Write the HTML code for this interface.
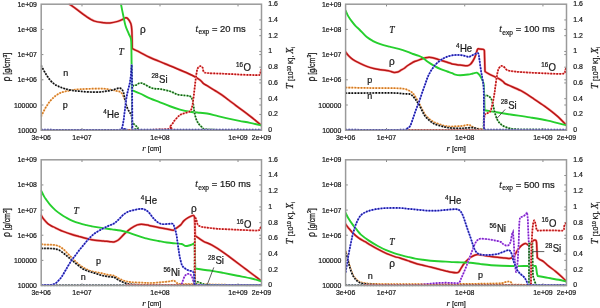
<!DOCTYPE html>
<html><head><meta charset="utf-8"><style>
html,body{margin:0;padding:0;background:#fff;}
svg{display:block;will-change:transform;}
text{font-family:"Liberation Sans",sans-serif;fill:#1a1a1a;stroke:#1a1a1a;stroke-width:0.22px;}
.tk{font-size:6.9px;}
.serif{font-family:"Liberation Serif",serif;}
</style></head><body>
<svg width="600" height="308" viewBox="0 0 600 308">

<path d="M41.2 105h2.2M261.5 105h-2.2M41.2 79.8h2.2M261.5 79.8h-2.2M41.2 54.6h2.2M261.5 54.6h-2.2M41.2 29.4h2.2M261.5 29.4h-2.2M81.99 130.2v-2.2M81.99 4.2v2.2M160 130.2v-2.2M160 4.2v2.2M238.02 130.2v-2.2M238.02 4.2v2.2M261.5 114.45h-2.2M261.5 98.7h-2.2M261.5 82.95h-2.2M261.5 67.2h-2.2M261.5 51.45h-2.2M261.5 35.7h-2.2M261.5 19.95h-2.2" stroke="#888" stroke-width="1" fill="none"/>
<clipPath id="c0"><rect x="40.7" y="3.7" width="221.3" height="127.2"/></clipPath><g clip-path="url(#c0)">
<path d="M69.5 4.2C70.65 5.02 73.73 7.15 76.4 9.1C79.07 11.05 82.48 13.9 85.5 15.9C88.52 17.9 91.48 19.97 94.5 21.1C97.52 22.23 101.02 22.38 103.6 22.7C106.18 23.02 107.63 23.22 110 23C112.37 22.78 115.63 22.03 117.8 21.4C119.97 20.77 121.75 19.78 123 19.2C124.25 18.62 124.55 18.03 125.3 17.9C126.05 17.77 126.58 17.48 127.5 18.4C128.42 19.32 130.08 21.48 130.8 23.4C131.52 25.32 131.58 27.3 131.8 29.9C132.02 32.5 132.02 35.95 132.1 39C132.18 42.05 132.27 46.67 132.3 48.2C132.48 48.37 132.12 48.52 133.4 49.2C134.68 49.88 137.23 50.92 140 52.3C142.77 53.68 145.83 55.59 150 57.5C154.17 59.41 160 61.67 165 63.75C170 65.83 175.42 68.04 180 70C184.58 71.96 189.17 73.83 192.5 75.5C195.83 77.17 198.15 78.65 200 80C201.85 81.35 202.42 82.65 203.6 83.6C204.78 84.55 205.32 84.6 207.1 85.7C208.88 86.8 211.92 88.72 214.3 90.2C216.68 91.68 219.02 92.97 221.4 94.6C223.78 96.23 226.22 98.2 228.6 100C230.98 101.8 233.32 103.62 235.7 105.4C238.08 107.18 240.52 108.92 242.9 110.7C245.28 112.48 247.63 114.25 250 116.1C252.37 117.95 255.22 120.27 257.1 121.8C258.98 123.33 260.6 124.72 261.3 125.3" stroke="#ff4a4a" stroke-opacity="0.5" stroke-width="2.5" fill="none" stroke-linejoin="round" stroke-linecap="round"/>
<path d="M69.5 4.2C70.65 5.02 73.73 7.15 76.4 9.1C79.07 11.05 82.48 13.9 85.5 15.9C88.52 17.9 91.48 19.97 94.5 21.1C97.52 22.23 101.02 22.38 103.6 22.7C106.18 23.02 107.63 23.22 110 23C112.37 22.78 115.63 22.03 117.8 21.4C119.97 20.77 121.75 19.78 123 19.2C124.25 18.62 124.55 18.03 125.3 17.9C126.05 17.77 126.58 17.48 127.5 18.4C128.42 19.32 130.08 21.48 130.8 23.4C131.52 25.32 131.58 27.3 131.8 29.9C132.02 32.5 132.02 35.95 132.1 39C132.18 42.05 132.27 46.67 132.3 48.2C132.48 48.37 132.12 48.52 133.4 49.2C134.68 49.88 137.23 50.92 140 52.3C142.77 53.68 145.83 55.59 150 57.5C154.17 59.41 160 61.67 165 63.75C170 65.83 175.42 68.04 180 70C184.58 71.96 189.17 73.83 192.5 75.5C195.83 77.17 198.15 78.65 200 80C201.85 81.35 202.42 82.65 203.6 83.6C204.78 84.55 205.32 84.6 207.1 85.7C208.88 86.8 211.92 88.72 214.3 90.2C216.68 91.68 219.02 92.97 221.4 94.6C223.78 96.23 226.22 98.2 228.6 100C230.98 101.8 233.32 103.62 235.7 105.4C238.08 107.18 240.52 108.92 242.9 110.7C245.28 112.48 247.63 114.25 250 116.1C252.37 117.95 255.22 120.27 257.1 121.8C258.98 123.33 260.6 124.72 261.3 125.3" stroke="#b81616" stroke-width="1.5" fill="none" stroke-linejoin="round" stroke-linecap="round"/>
<path d="M121 4.2C121.33 5.88 122.23 10.67 123 14.3C123.77 17.93 124.63 22.75 125.6 26C126.57 29.25 127.9 31.62 128.8 33.8C129.7 35.98 130.57 36.48 131 39.1C131.43 41.72 131.3 45.38 131.4 49.5C131.5 53.62 131.53 57.05 131.6 63.8C131.67 70.55 131.77 85.63 131.8 90C133.17 90.58 136.97 92.1 140 93.5C143.03 94.9 146.67 96.93 150 98.4C153.33 99.87 156.67 100.99 160 102.3C163.33 103.61 166.67 105.03 170 106.25C173.33 107.47 176.67 108.67 180 109.6C183.33 110.52 186.67 111.27 190 111.8C193.33 112.33 197.15 112.52 200 112.8C202.85 113.08 204.12 112.95 207.1 113.5C210.08 114.05 214.32 115.25 217.9 116.1C221.48 116.95 225.03 117.8 228.6 118.6C232.17 119.4 235.73 120.18 239.3 120.9C242.87 121.62 246.33 122.13 250 122.9C253.67 123.67 259.42 125.07 261.3 125.5" stroke="#26cf2e" stroke-width="1.9" fill="none" stroke-linejoin="round" stroke-linecap="round"/>
<path d="M41.2 116.5C41.83 115.21 43.53 111.29 45 108.75C46.47 106.21 48.33 103.33 50 101.25C51.67 99.17 53.33 97.62 55 96.25C56.67 94.88 58.33 93.79 60 93C61.67 92.21 62.92 92 65 91.5C67.08 91 70 90.38 72.5 90C75 89.62 77.08 89.46 80 89.25C82.92 89.04 86.67 88.86 90 88.75C93.33 88.64 97.5 88.6 100 88.6C102.5 88.6 103.33 88.58 105 88.75C106.67 88.92 108.05 89.22 110 89.6C111.95 89.97 115.02 90.63 116.7 91C118.38 91.37 119.12 91.25 120.1 91.8C121.08 92.35 121.87 93.1 122.6 94.3C123.33 95.5 124.18 98.22 124.5 99" stroke="#ffd0a0" stroke-width="1.5" fill="none" stroke-linejoin="round"/>
<path d="M41.2 116.5C41.83 115.21 43.53 111.29 45 108.75C46.47 106.21 48.33 103.33 50 101.25C51.67 99.17 53.33 97.62 55 96.25C56.67 94.88 58.33 93.79 60 93C61.67 92.21 62.92 92 65 91.5C67.08 91 70 90.38 72.5 90C75 89.62 77.08 89.46 80 89.25C82.92 89.04 86.67 88.86 90 88.75C93.33 88.64 97.5 88.6 100 88.6C102.5 88.6 103.33 88.58 105 88.75C106.67 88.92 108.05 89.22 110 89.6C111.95 89.97 115.02 90.63 116.7 91C118.38 91.37 119.12 91.25 120.1 91.8C121.08 92.35 121.87 93.1 122.6 94.3C123.33 95.5 124.18 98.22 124.5 99" stroke="#d07a24" stroke-width="1.7" fill="none" stroke-dasharray="1.6 1.4"/>
<path d="M41.2 65.5C41.83 66.67 43.53 70.08 45 72.5C46.47 74.92 48.33 78 50 80C51.67 82 53.33 83.33 55 84.5C56.67 85.67 58.33 86.29 60 87C61.67 87.71 62.92 88.17 65 88.75C67.08 89.33 70 90.08 72.5 90.5C75 90.92 77.08 91 80 91.25C82.92 91.5 86.67 91.88 90 92C93.33 92.12 97.5 92.12 100 92C102.5 91.88 103.33 91.53 105 91.3C106.67 91.07 108.33 90.93 110 90.6C111.67 90.27 113.45 89.72 115 89.3C116.55 88.88 118.17 88.1 119.3 88.1C120.43 88.1 121.1 88.55 121.8 89.3C122.5 90.05 122.93 90.78 123.5 92.6C124.07 94.42 124.63 97.8 125.2 100.2C125.77 102.6 126.2 105.03 126.9 107C127.6 108.97 128.7 110.73 129.4 112C130.1 113.27 130.68 113.47 131.1 114.6C131.52 115.73 131.72 116.27 131.9 118.8C132.08 121.33 132.15 127.97 132.2 129.8" stroke="#bdbdbd" stroke-width="1.5" fill="none" stroke-linejoin="round"/>
<path d="M41.2 65.5C41.83 66.67 43.53 70.08 45 72.5C46.47 74.92 48.33 78 50 80C51.67 82 53.33 83.33 55 84.5C56.67 85.67 58.33 86.29 60 87C61.67 87.71 62.92 88.17 65 88.75C67.08 89.33 70 90.08 72.5 90.5C75 90.92 77.08 91 80 91.25C82.92 91.5 86.67 91.88 90 92C93.33 92.12 97.5 92.12 100 92C102.5 91.88 103.33 91.53 105 91.3C106.67 91.07 108.33 90.93 110 90.6C111.67 90.27 113.45 89.72 115 89.3C116.55 88.88 118.17 88.1 119.3 88.1C120.43 88.1 121.1 88.55 121.8 89.3C122.5 90.05 122.93 90.78 123.5 92.6C124.07 94.42 124.63 97.8 125.2 100.2C125.77 102.6 126.2 105.03 126.9 107C127.6 108.97 128.7 110.73 129.4 112C130.1 113.27 130.68 113.47 131.1 114.6C131.52 115.73 131.72 116.27 131.9 118.8C132.08 121.33 132.15 127.97 132.2 129.8" stroke="#0a0a0a" stroke-width="1.7" fill="none" stroke-dasharray="1.6 1.4"/>
<path d="M41.2 129.8C56.17 129.8 115.87 131.43 131 129.8C146.13 128.17 131.8 126.78 132 120C132.2 113.22 131.48 94.93 132.2 89.1C132.92 83.27 134.95 86.02 136.3 85C137.65 83.98 138.95 83.12 140.3 83C141.65 82.88 142.37 83.42 144.4 84.3C146.43 85.18 149.9 87.5 152.5 88.3C155.1 89.1 157.08 88.61 160 89.1C162.92 89.59 167.08 90.35 170 91.25C172.92 92.15 175 93.79 177.5 94.5C180 95.21 182.92 95.21 185 95.5C187.08 95.79 188.75 95.5 190 96.25C191.25 97 191.88 98.12 192.5 100C193.12 101.88 193.33 105 193.75 107.5C194.17 110 194.38 112.58 195 115C195.62 117.42 196.25 119.92 197.5 122C198.75 124.08 200.42 126.23 202.5 127.5C204.58 128.77 200.17 129.22 210 129.6C219.83 129.98 252.92 129.77 261.5 129.8" stroke="#a0e4a0" stroke-width="1.5" fill="none" stroke-linejoin="round"/>
<path d="M41.2 129.8C56.17 129.8 115.87 131.43 131 129.8C146.13 128.17 131.8 126.78 132 120C132.2 113.22 131.48 94.93 132.2 89.1C132.92 83.27 134.95 86.02 136.3 85C137.65 83.98 138.95 83.12 140.3 83C141.65 82.88 142.37 83.42 144.4 84.3C146.43 85.18 149.9 87.5 152.5 88.3C155.1 89.1 157.08 88.61 160 89.1C162.92 89.59 167.08 90.35 170 91.25C172.92 92.15 175 93.79 177.5 94.5C180 95.21 182.92 95.21 185 95.5C187.08 95.79 188.75 95.5 190 96.25C191.25 97 191.88 98.12 192.5 100C193.12 101.88 193.33 105 193.75 107.5C194.17 110 194.38 112.58 195 115C195.62 117.42 196.25 119.92 197.5 122C198.75 124.08 200.42 126.23 202.5 127.5C204.58 128.77 200.17 129.22 210 129.6C219.83 129.98 252.92 129.77 261.5 129.8" stroke="#145a14" stroke-width="1.7" fill="none" stroke-dasharray="1.6 1.4"/>
<path d="M41.2 129.8C61 129.77 138.53 130.19 160 129.6C181.47 129.01 167.5 127.85 170 126.25C172.5 124.65 173.33 121.88 175 120C176.67 118.12 178.33 116.17 180 115C181.67 113.83 183.33 113.62 185 113C186.67 112.38 188.75 112.58 190 111.25C191.25 109.92 191.67 109.38 192.5 105C193.33 100.62 194.38 90 195 85C195.62 80 195.83 77.71 196.25 75C196.67 72.29 196.88 70.21 197.5 68.75C198.12 67.29 199.17 66.46 200 66.25C200.83 66.04 201.88 66.58 202.5 67.5C203.12 68.42 202.92 70.87 203.75 71.8C204.58 72.73 204.79 72.8 207.5 73.1C210.21 73.4 215.42 73.4 220 73.6C224.58 73.8 230 74.08 235 74.3C240 74.52 245.92 74.8 250 74.9C254.08 75 257.75 75.51 259.5 74.9C261.25 74.29 260.17 72.15 260.5 71.25C260.83 70.35 261.33 69.79 261.5 69.5" stroke="#ff9a9a" stroke-width="1.5" fill="none" stroke-linejoin="round"/>
<path d="M41.2 129.8C61 129.77 138.53 130.19 160 129.6C181.47 129.01 167.5 127.85 170 126.25C172.5 124.65 173.33 121.88 175 120C176.67 118.12 178.33 116.17 180 115C181.67 113.83 183.33 113.62 185 113C186.67 112.38 188.75 112.58 190 111.25C191.25 109.92 191.67 109.38 192.5 105C193.33 100.62 194.38 90 195 85C195.62 80 195.83 77.71 196.25 75C196.67 72.29 196.88 70.21 197.5 68.75C198.12 67.29 199.17 66.46 200 66.25C200.83 66.04 201.88 66.58 202.5 67.5C203.12 68.42 202.92 70.87 203.75 71.8C204.58 72.73 204.79 72.8 207.5 73.1C210.21 73.4 215.42 73.4 220 73.6C224.58 73.8 230 74.08 235 74.3C240 74.52 245.92 74.8 250 74.9C254.08 75 257.75 75.51 259.5 74.9C261.25 74.29 260.17 72.15 260.5 71.25C260.83 70.35 261.33 69.79 261.5 69.5" stroke="#b41212" stroke-width="1.7" fill="none" stroke-dasharray="1.6 1.4"/>
<path d="M41.2 129.7C54.42 129.7 107.03 129.98 120.5 129.7C133.97 129.42 121.5 129.45 122 128C122.5 126.55 123.07 123.67 123.5 121C123.93 118.33 124.25 114.83 124.6 112C124.95 109.17 125.25 106.58 125.6 104C125.95 101.42 126.27 98.92 126.7 96.5C127.13 94.08 127.68 91.75 128.2 89.5C128.72 87.25 129.37 85.25 129.8 83C130.23 80.75 130.53 78.5 130.8 76C131.07 73.5 131.25 69.87 131.4 68C131.55 66.13 131.65 65.33 131.7 64.8C131.77 68.17 131.98 74.18 132.1 85C132.22 95.82 132.35 122.25 132.4 129.7C153.92 129.7 239.98 129.7 261.5 129.7" stroke="#8c8cff" stroke-width="1.5" fill="none" stroke-linejoin="round"/>
<path d="M41.2 129.7C54.42 129.7 107.03 129.98 120.5 129.7C133.97 129.42 121.5 129.45 122 128C122.5 126.55 123.07 123.67 123.5 121C123.93 118.33 124.25 114.83 124.6 112C124.95 109.17 125.25 106.58 125.6 104C125.95 101.42 126.27 98.92 126.7 96.5C127.13 94.08 127.68 91.75 128.2 89.5C128.72 87.25 129.37 85.25 129.8 83C130.23 80.75 130.53 78.5 130.8 76C131.07 73.5 131.25 69.87 131.4 68C131.55 66.13 131.65 65.33 131.7 64.8C131.77 68.17 131.98 74.18 132.1 85C132.22 95.82 132.35 122.25 132.4 129.7C153.92 129.7 239.98 129.7 261.5 129.7" stroke="#1c1c98" stroke-width="1.7" fill="none" stroke-dasharray="1.6 1.4"/>
</g>
<rect x="41.2" y="4.2" width="220.3" height="126" fill="none" stroke="#9a9a9a" stroke-width="1.5"/>
<text class="tk" x="36.9" y="6.7" text-anchor="end">1e+09</text>
<text class="tk" x="36.9" y="31.9" text-anchor="end">1e+08</text>
<text class="tk" x="36.9" y="57.1" text-anchor="end">1e+07</text>
<text class="tk" x="36.9" y="82.3" text-anchor="end">1e+06</text>
<text class="tk" x="36.9" y="107.5" text-anchor="end">100000</text>
<text class="tk" x="36.9" y="132.7" text-anchor="end">10000</text>
<text class="tk" x="268.3" y="6.1">1.6</text>
<text class="tk" x="268.3" y="21.85">1.4</text>
<text class="tk" x="268.3" y="37.6">1.2</text>
<text class="tk" x="268.3" y="53.35">1</text>
<text class="tk" x="268.3" y="69.1">0.8</text>
<text class="tk" x="268.3" y="84.85">0.6</text>
<text class="tk" x="268.3" y="100.6">0.4</text>
<text class="tk" x="268.3" y="116.35">0.2</text>
<text class="tk" x="268.3" y="132.1">0</text>
<text class="tk" x="41.2" y="139.7" text-anchor="middle">3e+06</text>
<text class="tk" x="81.99" y="139.7" text-anchor="middle">1e+07</text>
<text class="tk" x="160" y="139.7" text-anchor="middle">1e+08</text>
<text class="tk" x="238.02" y="139.7" text-anchor="middle">1e+09</text>
<text class="tk" x="261.5" y="139.7" text-anchor="middle">2e+09</text>
<text x="142.2" y="150.7" font-size="7.2"><tspan class="serif" font-style="italic" font-size="9">r</tspan> [cm]</text>
<text transform="translate(10.2 67.2) rotate(-90) scale(1 1.25)" font-size="7" text-anchor="middle"><tspan font-size="8.6">ρ</tspan> [g/cm<tspan font-size="5" dy="-2.6">3</tspan><tspan dy="2.6">]</tspan></text>
<text transform="translate(293.1 89) rotate(-90)" font-size="6.9"><tspan class="serif" font-style="italic" font-size="10">T</tspan><tspan dx="0.6"> [10</tspan><tspan font-size="4.8" dy="-2.6">10</tspan><tspan dy="2.6"> K], </tspan><tspan class="serif" font-style="italic" font-size="9.6">X</tspan><tspan font-size="4.8" dy="1.8">i</tspan></text>
<path d="M345.6 105h2.2M566.5 105h-2.2M345.6 79.8h2.2M566.5 79.8h-2.2M345.6 54.6h2.2M566.5 54.6h-2.2M345.6 29.4h2.2M566.5 29.4h-2.2M386.5 130.2v-2.2M386.5 4.2v2.2M464.73 130.2v-2.2M464.73 4.2v2.2M542.95 130.2v-2.2M542.95 4.2v2.2M566.5 114.45h-2.2M566.5 98.7h-2.2M566.5 82.95h-2.2M566.5 67.2h-2.2M566.5 51.45h-2.2M566.5 35.7h-2.2M566.5 19.95h-2.2" stroke="#888" stroke-width="1" fill="none"/>
<clipPath id="c1"><rect x="345.1" y="3.7" width="221.9" height="127.2"/></clipPath><g clip-path="url(#c1)">
<path d="M345.6 51.9C346.1 52.55 347.35 54.5 348.6 55.8C349.85 57.1 351.2 58.43 353.1 59.7C355 60.97 357.72 62.28 360 63.4C362.28 64.52 364.53 65.57 366.8 66.4C369.07 67.23 371.57 67.88 373.6 68.4C375.63 68.92 376.85 69.15 379 69.5C381.15 69.85 384.5 70.17 386.5 70.5C388.5 70.83 389.75 71.18 391 71.5C392.25 71.82 392.88 72.32 394 72.4C395.12 72.48 396.58 72.37 397.75 72C398.92 71.63 399.96 70.78 401 70.2C402.04 69.62 402.87 69.28 404 68.5C405.13 67.72 406.55 66.38 407.8 65.5C409.05 64.62 410.37 63.87 411.5 63.2C412.63 62.53 413.52 61.97 414.6 61.5C415.68 61.03 416.62 60.9 418 60.4C419.38 59.9 421.28 59 422.9 58.5C424.52 58 426.08 57.53 427.7 57.4C429.32 57.27 430.7 57.32 432.6 57.7C434.5 58.08 436.93 59.02 439.1 59.7C441.27 60.38 443.43 61.1 445.6 61.8C447.77 62.5 450.2 63.42 452.1 63.9C454 64.38 455.38 64.48 457 64.7C458.62 64.92 460.1 65.02 461.8 65.2C463.5 65.38 465.77 65.97 467.2 65.8C468.63 65.63 469.45 65 470.4 64.2C471.35 63.4 472.08 62.35 472.9 61C473.72 59.65 474.55 58 475.3 56.1C476.05 54.2 476.87 50.82 477.4 49.6C477.93 48.38 478.32 48.93 478.5 48.8C479.32 48.9 482.42 49.07 483.4 49.4C484.38 49.73 484.23 50.57 484.4 50.8C484.5 54.25 484.9 68.05 485 71.5C485.42 71.77 486 72.28 487.5 73.1C489 73.92 492.12 75.48 494 76.4C495.88 77.32 497.3 77.75 498.8 78.6C500.3 79.45 501.97 80.68 503 81.5C504.03 82.32 504 82.85 505 83.5C506 84.15 506.35 84.2 509 85.4C511.65 86.6 516.93 88.57 520.9 90.7C524.87 92.83 528.82 95.6 532.8 98.2C536.78 100.8 540.82 103.4 544.8 106.3C548.78 109.2 553.12 112.47 556.7 115.6C560.28 118.73 564.7 123.52 566.3 125.1" stroke="#ff4a4a" stroke-opacity="0.5" stroke-width="2.5" fill="none" stroke-linejoin="round" stroke-linecap="round"/>
<path d="M345.6 51.9C346.1 52.55 347.35 54.5 348.6 55.8C349.85 57.1 351.2 58.43 353.1 59.7C355 60.97 357.72 62.28 360 63.4C362.28 64.52 364.53 65.57 366.8 66.4C369.07 67.23 371.57 67.88 373.6 68.4C375.63 68.92 376.85 69.15 379 69.5C381.15 69.85 384.5 70.17 386.5 70.5C388.5 70.83 389.75 71.18 391 71.5C392.25 71.82 392.88 72.32 394 72.4C395.12 72.48 396.58 72.37 397.75 72C398.92 71.63 399.96 70.78 401 70.2C402.04 69.62 402.87 69.28 404 68.5C405.13 67.72 406.55 66.38 407.8 65.5C409.05 64.62 410.37 63.87 411.5 63.2C412.63 62.53 413.52 61.97 414.6 61.5C415.68 61.03 416.62 60.9 418 60.4C419.38 59.9 421.28 59 422.9 58.5C424.52 58 426.08 57.53 427.7 57.4C429.32 57.27 430.7 57.32 432.6 57.7C434.5 58.08 436.93 59.02 439.1 59.7C441.27 60.38 443.43 61.1 445.6 61.8C447.77 62.5 450.2 63.42 452.1 63.9C454 64.38 455.38 64.48 457 64.7C458.62 64.92 460.1 65.02 461.8 65.2C463.5 65.38 465.77 65.97 467.2 65.8C468.63 65.63 469.45 65 470.4 64.2C471.35 63.4 472.08 62.35 472.9 61C473.72 59.65 474.55 58 475.3 56.1C476.05 54.2 476.87 50.82 477.4 49.6C477.93 48.38 478.32 48.93 478.5 48.8C479.32 48.9 482.42 49.07 483.4 49.4C484.38 49.73 484.23 50.57 484.4 50.8C484.5 54.25 484.9 68.05 485 71.5C485.42 71.77 486 72.28 487.5 73.1C489 73.92 492.12 75.48 494 76.4C495.88 77.32 497.3 77.75 498.8 78.6C500.3 79.45 501.97 80.68 503 81.5C504.03 82.32 504 82.85 505 83.5C506 84.15 506.35 84.2 509 85.4C511.65 86.6 516.93 88.57 520.9 90.7C524.87 92.83 528.82 95.6 532.8 98.2C536.78 100.8 540.82 103.4 544.8 106.3C548.78 109.2 553.12 112.47 556.7 115.6C560.28 118.73 564.7 123.52 566.3 125.1" stroke="#b81616" stroke-width="1.5" fill="none" stroke-linejoin="round" stroke-linecap="round"/>
<path d="M345.5 10.5C345.9 11.35 346.85 13.78 347.9 15.6C348.95 17.42 350.5 19.65 351.8 21.4C353.1 23.15 354.4 24.72 355.7 26.1C357 27.48 357.75 27.87 359.6 29.7C361.45 31.53 364.47 35.17 366.8 37.1C369.13 39.03 371.33 40.12 373.6 41.3C375.87 42.48 377.73 43.3 380.4 44.2C383.07 45.1 386.55 45.93 389.6 46.7C392.65 47.47 395.67 47.95 398.7 48.8C401.73 49.65 405.42 50.93 407.8 51.8C410.18 52.67 411.3 53.37 413 54C414.7 54.63 416.35 54.95 418 55.6C419.65 56.25 421.28 56.87 422.9 57.9C424.52 58.93 425.82 60.48 427.7 61.8C429.58 63.12 432.03 64.58 434.2 65.8C436.37 67.02 438.53 68.15 440.7 69.1C442.87 70.05 445.3 70.82 447.2 71.5C449.1 72.18 450.75 72.68 452.1 73.2C453.45 73.72 453.95 74.27 455.3 74.6C456.65 74.93 458.08 75.22 460.2 75.2C462.32 75.18 465.88 74.78 468 74.5C470.12 74.22 471.42 73.8 472.9 73.5C474.38 73.2 475.82 72.48 476.9 72.7C477.98 72.92 478.58 73.78 479.4 74.8C480.22 75.82 481.1 77.27 481.8 78.8C482.5 80.33 483.2 81.27 483.6 84C484 86.73 484.03 90.83 484.2 95.2C484.37 99.57 484.53 107.7 484.6 110.2C486.37 110.5 490.88 111.28 495.2 112C499.52 112.72 504.7 113.6 510.5 114.5C516.3 115.4 523.78 116.38 530 117.4C536.22 118.42 541.75 119.28 547.8 120.6C553.85 121.92 563.22 124.52 566.3 125.3" stroke="#26cf2e" stroke-width="1.9" fill="none" stroke-linejoin="round" stroke-linecap="round"/>
<path d="M345.6 87.5C349.5 87.58 360.93 87.88 369 88C377.07 88.12 388.17 88.08 394 88.2C399.83 88.33 401.33 88.27 404 88.75C406.67 89.23 408.5 90.32 410 91.1C411.5 91.88 411.98 92.25 413 93.4C414.02 94.55 415.08 96.35 416.1 98C417.12 99.65 418.08 101.4 419.1 103.3C420.12 105.2 421.18 107.5 422.2 109.4C423.22 111.3 423.93 113.05 425.2 114.7C426.47 116.35 428.27 118.03 429.8 119.3C431.33 120.57 432.62 121.42 434.4 122.3C436.18 123.18 438.47 123.95 440.5 124.6C442.53 125.25 444.57 125.88 446.6 126.2C448.63 126.52 450.17 126.53 452.7 126.5C455.23 126.47 459.17 126.28 461.8 126C464.43 125.72 466.82 124.72 468.5 124.8C470.18 124.88 470.77 125.95 471.9 126.5C473.03 127.05 473.9 127.68 475.3 128.1C476.7 128.52 478.85 128.72 480.3 129C481.75 129.28 483.38 129.67 484 129.8" stroke="#ffd0a0" stroke-width="1.5" fill="none" stroke-linejoin="round"/>
<path d="M345.6 87.5C349.5 87.58 360.93 87.88 369 88C377.07 88.12 388.17 88.08 394 88.2C399.83 88.33 401.33 88.27 404 88.75C406.67 89.23 408.5 90.32 410 91.1C411.5 91.88 411.98 92.25 413 93.4C414.02 94.55 415.08 96.35 416.1 98C417.12 99.65 418.08 101.4 419.1 103.3C420.12 105.2 421.18 107.5 422.2 109.4C423.22 111.3 423.93 113.05 425.2 114.7C426.47 116.35 428.27 118.03 429.8 119.3C431.33 120.57 432.62 121.42 434.4 122.3C436.18 123.18 438.47 123.95 440.5 124.6C442.53 125.25 444.57 125.88 446.6 126.2C448.63 126.52 450.17 126.53 452.7 126.5C455.23 126.47 459.17 126.28 461.8 126C464.43 125.72 466.82 124.72 468.5 124.8C470.18 124.88 470.77 125.95 471.9 126.5C473.03 127.05 473.9 127.68 475.3 128.1C476.7 128.52 478.85 128.72 480.3 129C481.75 129.28 483.38 129.67 484 129.8" stroke="#d07a24" stroke-width="1.7" fill="none" stroke-dasharray="1.6 1.4"/>
<path d="M345.6 93.2C349.5 93.17 360.93 93.03 369 93C377.07 92.97 388.17 92.88 394 93C399.83 93.12 401.33 93.57 404 93.75C406.67 93.93 408.5 93.66 410 94.1C411.5 94.54 411.98 95.38 413 96.4C414.02 97.42 415.08 98.8 416.1 100.2C417.12 101.6 418.08 103.02 419.1 104.8C420.12 106.58 421.18 108.98 422.2 110.9C423.22 112.82 423.93 114.65 425.2 116.3C426.47 117.95 428.27 119.53 429.8 120.8C431.33 122.07 432.62 123.05 434.4 123.9C436.18 124.75 438.47 125.32 440.5 125.9C442.53 126.48 444.57 127.03 446.6 127.4C448.63 127.77 450.47 127.93 452.7 128.1C454.93 128.27 457.95 128.4 460 128.4C462.05 128.4 463 128.23 465 128.1C467 127.97 470.28 127.6 472 127.6C473.72 127.6 474.2 127.82 475.3 128.1C476.4 128.38 477.2 129.02 478.6 129.3C480 129.58 482.85 129.72 483.7 129.8" stroke="#bdbdbd" stroke-width="1.5" fill="none" stroke-linejoin="round"/>
<path d="M345.6 93.2C349.5 93.17 360.93 93.03 369 93C377.07 92.97 388.17 92.88 394 93C399.83 93.12 401.33 93.57 404 93.75C406.67 93.93 408.5 93.66 410 94.1C411.5 94.54 411.98 95.38 413 96.4C414.02 97.42 415.08 98.8 416.1 100.2C417.12 101.6 418.08 103.02 419.1 104.8C420.12 106.58 421.18 108.98 422.2 110.9C423.22 112.82 423.93 114.65 425.2 116.3C426.47 117.95 428.27 119.53 429.8 120.8C431.33 122.07 432.62 123.05 434.4 123.9C436.18 124.75 438.47 125.32 440.5 125.9C442.53 126.48 444.57 127.03 446.6 127.4C448.63 127.77 450.47 127.93 452.7 128.1C454.93 128.27 457.95 128.4 460 128.4C462.05 128.4 463 128.23 465 128.1C467 127.97 470.28 127.6 472 127.6C473.72 127.6 474.2 127.82 475.3 128.1C476.4 128.38 477.2 129.02 478.6 129.3C480 129.58 482.85 129.72 483.7 129.8" stroke="#0a0a0a" stroke-width="1.7" fill="none" stroke-dasharray="1.6 1.4"/>
<path d="M345.6 129.8C368.58 129.8 460.52 129.8 483.5 129.8C483.62 124.83 483.98 105.65 484.2 100C484.42 94.35 484.23 96.62 484.8 95.9C485.37 95.18 486.62 95.35 487.6 95.7C488.58 96.05 489.93 96.98 490.7 98C491.47 99.02 491.7 100.15 492.2 101.8C492.7 103.45 493.2 105.87 493.7 107.9C494.2 109.93 494.57 111.97 495.2 114C495.83 116.03 496.48 118.33 497.5 120.1C498.52 121.87 499.65 123.33 501.3 124.6C502.95 125.87 505.12 126.93 507.4 127.7C509.68 128.47 511.23 128.88 515 129.2C518.77 129.52 521.42 129.5 530 129.6C538.58 129.7 560.42 129.77 566.5 129.8" stroke="#a0e4a0" stroke-width="1.5" fill="none" stroke-linejoin="round"/>
<path d="M345.6 129.8C368.58 129.8 460.52 129.8 483.5 129.8C483.62 124.83 483.98 105.65 484.2 100C484.42 94.35 484.23 96.62 484.8 95.9C485.37 95.18 486.62 95.35 487.6 95.7C488.58 96.05 489.93 96.98 490.7 98C491.47 99.02 491.7 100.15 492.2 101.8C492.7 103.45 493.2 105.87 493.7 107.9C494.2 109.93 494.57 111.97 495.2 114C495.83 116.03 496.48 118.33 497.5 120.1C498.52 121.87 499.65 123.33 501.3 124.6C502.95 125.87 505.12 126.93 507.4 127.7C509.68 128.47 511.23 128.88 515 129.2C518.77 129.52 521.42 129.5 530 129.6C538.58 129.7 560.42 129.77 566.5 129.8" stroke="#145a14" stroke-width="1.7" fill="none" stroke-dasharray="1.6 1.4"/>
<path d="M345.6 129.8C368.63 129.8 460.77 129.8 483.8 129.8C483.93 127.42 483.98 118.27 484.6 115.5C485.22 112.73 486.52 113.95 487.5 113.2C488.48 112.45 489.67 112.53 490.5 111C491.33 109.47 491.88 106.67 492.5 104C493.12 101.33 493.75 97.67 494.2 95C494.65 92.33 494.77 91.08 495.2 88C495.63 84.92 496.28 79.58 496.8 76.5C497.32 73.42 497.68 71.18 498.3 69.5C498.92 67.82 499.88 66.98 500.5 66.4C501.12 65.82 501.32 65.82 502 66C502.68 66.18 503.68 66.8 504.6 67.5C505.52 68.2 505.72 69.52 507.5 70.2C509.28 70.88 511.73 71.2 515.3 71.6C518.87 72 523.38 72.28 528.9 72.6C534.42 72.92 542.63 73.33 548.4 73.5C554.17 73.67 560.73 74.12 563.5 73.6C566.27 73.08 564.5 71.42 565 70.4C565.5 69.38 566.25 67.98 566.5 67.5" stroke="#ff9a9a" stroke-width="1.5" fill="none" stroke-linejoin="round"/>
<path d="M345.6 129.8C368.63 129.8 460.77 129.8 483.8 129.8C483.93 127.42 483.98 118.27 484.6 115.5C485.22 112.73 486.52 113.95 487.5 113.2C488.48 112.45 489.67 112.53 490.5 111C491.33 109.47 491.88 106.67 492.5 104C493.12 101.33 493.75 97.67 494.2 95C494.65 92.33 494.77 91.08 495.2 88C495.63 84.92 496.28 79.58 496.8 76.5C497.32 73.42 497.68 71.18 498.3 69.5C498.92 67.82 499.88 66.98 500.5 66.4C501.12 65.82 501.32 65.82 502 66C502.68 66.18 503.68 66.8 504.6 67.5C505.52 68.2 505.72 69.52 507.5 70.2C509.28 70.88 511.73 71.2 515.3 71.6C518.87 72 523.38 72.28 528.9 72.6C534.42 72.92 542.63 73.33 548.4 73.5C554.17 73.67 560.73 74.12 563.5 73.6C566.27 73.08 564.5 71.42 565 70.4C565.5 69.38 566.25 67.98 566.5 67.5" stroke="#b41212" stroke-width="1.7" fill="none" stroke-dasharray="1.6 1.4"/>
<path d="M345.6 129.7C354.92 129.7 391.35 129.86 401.5 129.7C411.65 129.54 405.08 129.33 406.5 128.75C407.92 128.17 408.92 127.91 410 126.2C411.08 124.49 411.98 121.3 413 118.5C414.02 115.7 415.08 112.18 416.1 109.4C417.12 106.62 418.08 104.6 419.1 101.8C420.12 99 421.17 95.57 422.2 92.6C423.23 89.63 424.38 86.57 425.3 84C426.22 81.43 426.75 79.42 427.7 77.2C428.65 74.98 429.63 72.87 431 70.7C432.37 68.53 434 66.15 435.9 64.2C437.8 62.25 440.25 60.35 442.4 59C444.55 57.65 446.65 56.77 448.8 56.1C450.95 55.43 453.4 55.17 455.3 55C457.2 54.83 458.63 54.97 460.2 55.1C461.77 55.23 463.27 55.5 464.7 55.8C466.13 56.1 467.72 56.9 468.8 56.9C469.88 56.9 470.25 56.25 471.2 55.8C472.15 55.35 473.55 54.63 474.5 54.2C475.45 53.77 476.23 53.28 476.9 53.2C477.57 53.12 478.08 52.67 478.5 53.7C478.92 54.73 478.98 56.57 479.4 59.4C479.82 62.23 480.47 67.27 481 70.7C481.53 74.13 482.15 76.78 482.6 80C483.05 83.22 483.47 81.72 483.7 90C483.93 98.28 483.95 123.08 484 129.7C497.75 129.7 552.75 129.7 566.5 129.7" stroke="#8c8cff" stroke-width="1.5" fill="none" stroke-linejoin="round"/>
<path d="M345.6 129.7C354.92 129.7 391.35 129.86 401.5 129.7C411.65 129.54 405.08 129.33 406.5 128.75C407.92 128.17 408.92 127.91 410 126.2C411.08 124.49 411.98 121.3 413 118.5C414.02 115.7 415.08 112.18 416.1 109.4C417.12 106.62 418.08 104.6 419.1 101.8C420.12 99 421.17 95.57 422.2 92.6C423.23 89.63 424.38 86.57 425.3 84C426.22 81.43 426.75 79.42 427.7 77.2C428.65 74.98 429.63 72.87 431 70.7C432.37 68.53 434 66.15 435.9 64.2C437.8 62.25 440.25 60.35 442.4 59C444.55 57.65 446.65 56.77 448.8 56.1C450.95 55.43 453.4 55.17 455.3 55C457.2 54.83 458.63 54.97 460.2 55.1C461.77 55.23 463.27 55.5 464.7 55.8C466.13 56.1 467.72 56.9 468.8 56.9C469.88 56.9 470.25 56.25 471.2 55.8C472.15 55.35 473.55 54.63 474.5 54.2C475.45 53.77 476.23 53.28 476.9 53.2C477.57 53.12 478.08 52.67 478.5 53.7C478.92 54.73 478.98 56.57 479.4 59.4C479.82 62.23 480.47 67.27 481 70.7C481.53 74.13 482.15 76.78 482.6 80C483.05 83.22 483.47 81.72 483.7 90C483.93 98.28 483.95 123.08 484 129.7C497.75 129.7 552.75 129.7 566.5 129.7" stroke="#1c1c98" stroke-width="1.7" fill="none" stroke-dasharray="1.6 1.4"/>
</g>
<rect x="345.6" y="4.2" width="220.9" height="126" fill="none" stroke="#9a9a9a" stroke-width="1.5"/>
<text class="tk" x="341.3" y="6.7" text-anchor="end">1e+09</text>
<text class="tk" x="341.3" y="31.9" text-anchor="end">1e+08</text>
<text class="tk" x="341.3" y="57.1" text-anchor="end">1e+07</text>
<text class="tk" x="341.3" y="82.3" text-anchor="end">1e+06</text>
<text class="tk" x="341.3" y="107.5" text-anchor="end">100000</text>
<text class="tk" x="341.3" y="132.7" text-anchor="end">10000</text>
<text class="tk" x="573.3" y="6.1">1.6</text>
<text class="tk" x="573.3" y="21.85">1.4</text>
<text class="tk" x="573.3" y="37.6">1.2</text>
<text class="tk" x="573.3" y="53.35">1</text>
<text class="tk" x="573.3" y="69.1">0.8</text>
<text class="tk" x="573.3" y="84.85">0.6</text>
<text class="tk" x="573.3" y="100.6">0.4</text>
<text class="tk" x="573.3" y="116.35">0.2</text>
<text class="tk" x="573.3" y="132.1">0</text>
<text class="tk" x="345.6" y="139.7" text-anchor="middle">3e+06</text>
<text class="tk" x="386.5" y="139.7" text-anchor="middle">1e+07</text>
<text class="tk" x="464.73" y="139.7" text-anchor="middle">1e+08</text>
<text class="tk" x="542.95" y="139.7" text-anchor="middle">1e+09</text>
<text class="tk" x="566.5" y="139.7" text-anchor="middle">2e+09</text>
<text x="446.6" y="150.7" font-size="7.2"><tspan class="serif" font-style="italic" font-size="9">r</tspan> [cm]</text>
<text transform="translate(314.6 67.2) rotate(-90) scale(1 1.25)" font-size="7" text-anchor="middle"><tspan font-size="8.6">ρ</tspan> [g/cm<tspan font-size="5" dy="-2.6">3</tspan><tspan dy="2.6">]</tspan></text>
<text transform="translate(598.1 89) rotate(-90)" font-size="6.9"><tspan class="serif" font-style="italic" font-size="10">T</tspan><tspan dx="0.6"> [10</tspan><tspan font-size="4.8" dy="-2.6">10</tspan><tspan dy="2.6"> K], </tspan><tspan class="serif" font-style="italic" font-size="9.6">X</tspan><tspan font-size="4.8" dy="1.8">i</tspan></text>
<path d="M41.2 260.36h2.2M261.5 260.36h-2.2M41.2 235.22h2.2M261.5 235.22h-2.2M41.2 210.08h2.2M261.5 210.08h-2.2M41.2 184.94h2.2M261.5 184.94h-2.2M81.99 285.5v-2.2M81.99 159.8v2.2M160 285.5v-2.2M160 159.8v2.2M238.02 285.5v-2.2M238.02 159.8v2.2M261.5 269.79h-2.2M261.5 254.07h-2.2M261.5 238.36h-2.2M261.5 222.65h-2.2M261.5 206.94h-2.2M261.5 191.23h-2.2M261.5 175.51h-2.2" stroke="#888" stroke-width="1" fill="none"/>
<clipPath id="c2"><rect x="40.7" y="159.3" width="221.3" height="126.9"/></clipPath><g clip-path="url(#c2)">
<path d="M41.2 215.3C41.65 215.98 42.8 218.02 43.9 219.4C45 220.78 46.53 222.5 47.8 223.6C49.07 224.7 50.3 225.33 51.5 226C52.7 226.67 53.67 226.95 55 227.6C56.33 228.25 58.15 229.27 59.5 229.9C60.85 230.53 61.13 230.67 63.1 231.4C65.07 232.13 68.58 233.43 71.3 234.3C74.02 235.17 76.7 235.87 79.4 236.6C82.1 237.33 84.9 238.1 87.5 238.7C90.1 239.3 92.33 239.82 95 240.2C97.67 240.58 101 240.75 103.5 241C106 241.25 108.25 241.55 110 241.7C111.75 241.85 112.62 242.18 114 241.9C115.38 241.62 116.53 241.38 118.3 240C120.07 238.62 122.48 235.55 124.6 233.6C126.72 231.65 128.88 229.75 131 228.3C133.12 226.85 135.55 225.58 137.3 224.9C139.05 224.22 139.73 224.17 141.5 224.2C143.27 224.23 146.48 224.85 147.9 225.1C149.32 225.35 148.23 225.32 150 225.7C151.77 226.08 155.68 226.85 158.5 227.4C161.32 227.95 164.43 228.53 166.9 229C169.37 229.47 171.72 230.35 173.3 230.2C174.88 230.05 175.17 228.98 176.4 228.1C177.63 227.22 179.47 226.1 180.7 224.9C181.93 223.7 182.57 222.1 183.8 220.9C185.03 219.7 186.68 218.58 188.1 217.7C189.52 216.82 191.38 215.97 192.3 215.6C193.22 215.23 193.23 215.3 193.6 215.5C193.97 215.7 194.35 216.58 194.5 216.8C194.62 219.97 195.08 232.63 195.2 235.8C195.67 236.12 196.62 236.78 198 237.7C199.38 238.62 201.17 240.05 203.5 241.3C205.83 242.55 208.72 243.37 212 245.2C215.28 247.03 219.45 249.72 223.2 252.3C226.95 254.88 230.73 257.88 234.5 260.7C238.27 263.52 242.03 266.37 245.8 269.2C249.57 272.03 254.48 275.68 257.1 277.7C259.72 279.72 260.77 280.7 261.5 281.3" stroke="#ff4a4a" stroke-opacity="0.5" stroke-width="2.5" fill="none" stroke-linejoin="round" stroke-linecap="round"/>
<path d="M41.2 215.3C41.65 215.98 42.8 218.02 43.9 219.4C45 220.78 46.53 222.5 47.8 223.6C49.07 224.7 50.3 225.33 51.5 226C52.7 226.67 53.67 226.95 55 227.6C56.33 228.25 58.15 229.27 59.5 229.9C60.85 230.53 61.13 230.67 63.1 231.4C65.07 232.13 68.58 233.43 71.3 234.3C74.02 235.17 76.7 235.87 79.4 236.6C82.1 237.33 84.9 238.1 87.5 238.7C90.1 239.3 92.33 239.82 95 240.2C97.67 240.58 101 240.75 103.5 241C106 241.25 108.25 241.55 110 241.7C111.75 241.85 112.62 242.18 114 241.9C115.38 241.62 116.53 241.38 118.3 240C120.07 238.62 122.48 235.55 124.6 233.6C126.72 231.65 128.88 229.75 131 228.3C133.12 226.85 135.55 225.58 137.3 224.9C139.05 224.22 139.73 224.17 141.5 224.2C143.27 224.23 146.48 224.85 147.9 225.1C149.32 225.35 148.23 225.32 150 225.7C151.77 226.08 155.68 226.85 158.5 227.4C161.32 227.95 164.43 228.53 166.9 229C169.37 229.47 171.72 230.35 173.3 230.2C174.88 230.05 175.17 228.98 176.4 228.1C177.63 227.22 179.47 226.1 180.7 224.9C181.93 223.7 182.57 222.1 183.8 220.9C185.03 219.7 186.68 218.58 188.1 217.7C189.52 216.82 191.38 215.97 192.3 215.6C193.22 215.23 193.23 215.3 193.6 215.5C193.97 215.7 194.35 216.58 194.5 216.8C194.62 219.97 195.08 232.63 195.2 235.8C195.67 236.12 196.62 236.78 198 237.7C199.38 238.62 201.17 240.05 203.5 241.3C205.83 242.55 208.72 243.37 212 245.2C215.28 247.03 219.45 249.72 223.2 252.3C226.95 254.88 230.73 257.88 234.5 260.7C238.27 263.52 242.03 266.37 245.8 269.2C249.57 272.03 254.48 275.68 257.1 277.7C259.72 279.72 260.77 280.7 261.5 281.3" stroke="#b81616" stroke-width="1.5" fill="none" stroke-linejoin="round" stroke-linecap="round"/>
<path d="M41.2 190.7C41.7 191.68 43.32 195.05 44.2 196.6C45.08 198.15 45.47 198.57 46.5 200C47.53 201.43 48.88 203.47 50.4 205.2C51.92 206.93 53.87 208.88 55.6 210.4C57.33 211.92 59.07 213.12 60.8 214.3C62.53 215.48 64.05 216.42 66 217.5C67.95 218.58 70.17 219.82 72.5 220.8C74.83 221.78 77.67 222.68 80 223.4C82.33 224.12 84.6 224.63 86.5 225.1C88.4 225.57 89.98 225.9 91.4 226.2C92.82 226.5 92.98 226.55 95 226.9C97.02 227.25 100.68 227.88 103.5 228.3C106.32 228.72 109.08 229.03 111.9 229.4C114.72 229.77 117.58 229.97 120.4 230.5C123.22 231.03 125.98 231.73 128.8 232.6C131.62 233.47 134.48 234.75 137.3 235.7C140.12 236.65 143.58 237.68 145.7 238.3C147.82 238.92 147.87 238.95 150 239.4C152.13 239.85 155.68 240.48 158.5 241C161.32 241.52 164.1 242.1 166.9 242.5C169.7 242.9 172.83 243.15 175.3 243.4C177.77 243.65 180.1 243.6 181.7 244C183.3 244.4 183.83 245.52 184.9 245.8C185.97 246.08 186.87 245.95 188.1 245.7C189.33 245.45 191.22 244.75 192.3 244.3C193.38 243.85 194.22 243.22 194.6 243C194.72 247.25 195.18 264.25 195.3 268.5C198.08 268.9 207.35 270.17 212 270.9C216.65 271.63 218.97 272.1 223.2 272.9C227.43 273.7 232.68 274.77 237.4 275.7C242.12 276.63 247.48 277.57 251.5 278.5C255.52 279.43 259.83 280.83 261.5 281.3" stroke="#26cf2e" stroke-width="1.9" fill="none" stroke-linejoin="round" stroke-linecap="round"/>
<path d="M41.2 244.3C41.83 244.35 43.53 244.53 45 244.6C46.47 244.67 48.48 244.65 50 244.7C51.52 244.75 52.65 244.67 54.1 244.9C55.55 245.13 57.17 245.4 58.7 246.1C60.23 246.8 61.77 247.83 63.3 249.1C64.83 250.37 66.38 252.17 67.9 253.7C69.42 255.23 70.88 256.77 72.4 258.3C73.92 259.83 75.22 261.38 77 262.9C78.78 264.42 81.07 266.13 83.1 267.4C85.13 268.67 87.22 269.72 89.2 270.5C91.18 271.28 93.03 271.67 95 272.1C96.97 272.53 99 272.68 101 273.1C103 273.52 104.8 274.15 107 274.6C109.2 275.05 112.2 275.13 114.2 275.8C116.2 276.47 117.2 277.73 119 278.6C120.8 279.47 122.98 280.4 125 281C127.02 281.6 128.08 281.92 131.1 282.2C134.12 282.48 139.95 282.57 143.1 282.7C146.25 282.83 147.17 283.07 150 283C152.83 282.93 157 282.55 160.1 282.3C163.2 282.05 166.35 281.78 168.6 281.5C170.85 281.22 172.33 280.47 173.6 280.6C174.87 280.73 175.2 281.73 176.2 282.3C177.2 282.87 176.65 283.68 179.6 284C182.55 284.32 180.25 283.98 193.9 284.2C207.55 284.42 250.23 285.12 261.5 285.3" stroke="#ffd0a0" stroke-width="1.5" fill="none" stroke-linejoin="round"/>
<path d="M41.2 244.3C41.83 244.35 43.53 244.53 45 244.6C46.47 244.67 48.48 244.65 50 244.7C51.52 244.75 52.65 244.67 54.1 244.9C55.55 245.13 57.17 245.4 58.7 246.1C60.23 246.8 61.77 247.83 63.3 249.1C64.83 250.37 66.38 252.17 67.9 253.7C69.42 255.23 70.88 256.77 72.4 258.3C73.92 259.83 75.22 261.38 77 262.9C78.78 264.42 81.07 266.13 83.1 267.4C85.13 268.67 87.22 269.72 89.2 270.5C91.18 271.28 93.03 271.67 95 272.1C96.97 272.53 99 272.68 101 273.1C103 273.52 104.8 274.15 107 274.6C109.2 275.05 112.2 275.13 114.2 275.8C116.2 276.47 117.2 277.73 119 278.6C120.8 279.47 122.98 280.4 125 281C127.02 281.6 128.08 281.92 131.1 282.2C134.12 282.48 139.95 282.57 143.1 282.7C146.25 282.83 147.17 283.07 150 283C152.83 282.93 157 282.55 160.1 282.3C163.2 282.05 166.35 281.78 168.6 281.5C170.85 281.22 172.33 280.47 173.6 280.6C174.87 280.73 175.2 281.73 176.2 282.3C177.2 282.87 176.65 283.68 179.6 284C182.55 284.32 180.25 283.98 193.9 284.2C207.55 284.42 250.23 285.12 261.5 285.3" stroke="#d07a24" stroke-width="1.7" fill="none" stroke-dasharray="1.6 1.4"/>
<path d="M41.2 248.4C41.83 248.4 43.53 248.38 45 248.4C46.47 248.42 48.48 248.45 50 248.5C51.52 248.55 52.65 248.47 54.1 248.7C55.55 248.93 57.17 249.18 58.7 249.9C60.23 250.62 61.77 251.85 63.3 253C64.83 254.15 66.38 255.53 67.9 256.8C69.42 258.07 70.88 259.33 72.4 260.6C73.92 261.87 75.22 263 77 264.4C78.78 265.8 81.07 267.82 83.1 269C85.13 270.18 87.22 270.8 89.2 271.5C91.18 272.2 93.03 272.58 95 273.2C96.97 273.82 99 274.67 101 275.2C103 275.73 104.8 276.03 107 276.4C109.2 276.77 112.2 276.73 114.2 277.4C116.2 278.07 117.2 279.47 119 280.4C120.8 281.33 122.98 282.35 125 283C127.02 283.65 128.08 283.98 131.1 284.3C134.12 284.62 139.12 284.77 143.1 284.9C147.08 285.03 135.27 285.03 155 285.1C174.73 285.17 243.75 285.27 261.5 285.3" stroke="#bdbdbd" stroke-width="1.5" fill="none" stroke-linejoin="round"/>
<path d="M41.2 248.4C41.83 248.4 43.53 248.38 45 248.4C46.47 248.42 48.48 248.45 50 248.5C51.52 248.55 52.65 248.47 54.1 248.7C55.55 248.93 57.17 249.18 58.7 249.9C60.23 250.62 61.77 251.85 63.3 253C64.83 254.15 66.38 255.53 67.9 256.8C69.42 258.07 70.88 259.33 72.4 260.6C73.92 261.87 75.22 263 77 264.4C78.78 265.8 81.07 267.82 83.1 269C85.13 270.18 87.22 270.8 89.2 271.5C91.18 272.2 93.03 272.58 95 273.2C96.97 273.82 99 274.67 101 275.2C103 275.73 104.8 276.03 107 276.4C109.2 276.77 112.2 276.73 114.2 277.4C116.2 278.07 117.2 279.47 119 280.4C120.8 281.33 122.98 282.35 125 283C127.02 283.65 128.08 283.98 131.1 284.3C134.12 284.62 139.12 284.77 143.1 284.9C147.08 285.03 135.27 285.03 155 285.1C174.73 285.17 243.75 285.27 261.5 285.3" stroke="#0a0a0a" stroke-width="1.7" fill="none" stroke-dasharray="1.6 1.4"/>
<path d="M41.2 285.3C64.5 285.3 157.7 285.3 181 285.3C181.18 284.92 181.63 284.2 182.1 283C182.57 281.8 183.23 279.4 183.8 278.1C184.37 276.8 184.8 275.9 185.5 275.2C186.2 274.5 187.17 273.98 188 273.9C188.83 273.82 189.8 274.15 190.5 274.7C191.2 275.25 191.68 275.93 192.2 277.2C192.72 278.47 193.25 280.95 193.6 282.3C193.95 283.65 194.18 284.8 194.3 285.3C205.5 285.3 250.3 285.3 261.5 285.3" stroke="#dca4ff" stroke-width="1.5" fill="none" stroke-linejoin="round"/>
<path d="M41.2 285.3C64.5 285.3 157.7 285.3 181 285.3C181.18 284.92 181.63 284.2 182.1 283C182.57 281.8 183.23 279.4 183.8 278.1C184.37 276.8 184.8 275.9 185.5 275.2C186.2 274.5 187.17 273.98 188 273.9C188.83 273.82 189.8 274.15 190.5 274.7C191.2 275.25 191.68 275.93 192.2 277.2C192.72 278.47 193.25 280.95 193.6 282.3C193.95 283.65 194.18 284.8 194.3 285.3C205.5 285.3 250.3 285.3 261.5 285.3" stroke="#7a26c4" stroke-width="1.7" fill="none" stroke-dasharray="1.6 1.4"/>
<path d="M41.2 285.4C66.75 285.4 168.95 285.4 194.5 285.4C194.55 277.5 194.75 245.9 194.8 238C194.87 245.08 194.73 273.2 195.2 280.5C195.67 287.8 196.4 281.28 197.6 281.8C198.8 282.32 200.8 283.1 202.4 283.6C204 284.1 202.93 284.5 207.2 284.8C211.47 285.1 218.95 285.3 228 285.4C237.05 285.5 255.92 285.4 261.5 285.4" stroke="#a0e4a0" stroke-width="1.5" fill="none" stroke-linejoin="round"/>
<path d="M41.2 285.4C66.75 285.4 168.95 285.4 194.5 285.4C194.55 277.5 194.75 245.9 194.8 238C194.87 245.08 194.73 273.2 195.2 280.5C195.67 287.8 196.4 281.28 197.6 281.8C198.8 282.32 200.8 283.1 202.4 283.6C204 284.1 202.93 284.5 207.2 284.8C211.47 285.1 218.95 285.3 228 285.4C237.05 285.5 255.92 285.4 261.5 285.4" stroke="#145a14" stroke-width="1.7" fill="none" stroke-dasharray="1.6 1.4"/>
<path d="M126 285.3C137.45 285.3 183.25 285.3 194.7 285.3C194.77 274.77 194.55 232.12 195.1 222.1C195.65 212.08 196.98 224.43 198 225.2C199.02 225.97 200.03 226.33 201.2 226.7C202.37 227.07 202.27 227.05 205 227.4C207.73 227.75 212.2 228.42 217.6 228.8C223 229.18 230.82 229.42 237.4 229.7C243.98 229.98 253.33 230.72 257.1 230.5C260.87 230.28 259.27 229.1 260 228.4C260.73 227.7 261.25 226.65 261.5 226.3" stroke="#ff9a9a" stroke-width="1.5" fill="none" stroke-linejoin="round"/>
<path d="M126 285.3C137.45 285.3 183.25 285.3 194.7 285.3C194.77 274.77 194.55 232.12 195.1 222.1C195.65 212.08 196.98 224.43 198 225.2C199.02 225.97 200.03 226.33 201.2 226.7C202.37 227.07 202.27 227.05 205 227.4C207.73 227.75 212.2 228.42 217.6 228.8C223 229.18 230.82 229.42 237.4 229.7C243.98 229.98 253.33 230.72 257.1 230.5C260.87 230.28 259.27 229.1 260 228.4C260.73 227.7 261.25 226.65 261.5 226.3" stroke="#b41212" stroke-width="1.7" fill="none" stroke-dasharray="1.6 1.4"/>
<path d="M41.2 285.1C42.17 285.1 45.45 285.13 47 285.1C48.55 285.07 49.42 285.03 50.5 284.9C51.58 284.77 52.58 284.62 53.5 284.3C54.42 283.98 55.17 283.62 56 283C56.83 282.38 57.53 281.67 58.5 280.6C59.47 279.53 60.5 278.53 61.8 276.6C63.1 274.67 64.78 271.55 66.3 269C67.82 266.45 69.37 263.6 70.9 261.3C72.43 259 73.97 257.23 75.5 255.2C77.03 253.17 78.58 251 80.1 249.1C81.62 247.2 83.33 245.32 84.6 243.8C85.87 242.28 86.63 241.2 87.7 240C88.77 238.8 89.78 237.73 91 236.6C92.22 235.47 93.28 234.4 95 233.2C96.72 232 99.18 230.57 101.3 229.4C103.42 228.23 105.58 227.18 107.7 226.2C109.82 225.22 112.23 224.55 114 223.5C115.77 222.45 116.72 221.38 118.3 219.9C119.88 218.42 121.75 216.02 123.5 214.6C125.25 213.18 126.85 212.2 128.8 211.4C130.75 210.6 133.08 210.23 135.2 209.8C137.32 209.37 139.75 208.77 141.5 208.8C143.25 208.83 144.47 209.38 145.7 210C146.93 210.62 147.83 211.38 148.9 212.5C149.97 213.62 151.08 215.47 152.1 216.7C153.12 217.93 153.93 218.88 155 219.9C156.07 220.92 157.22 222.08 158.5 222.8C159.78 223.52 160.95 224.03 162.7 224.2C164.45 224.37 167.32 223.87 169 223.8C170.68 223.73 171.92 223.27 172.8 223.8C173.68 224.33 173.72 225.3 174.3 227C174.88 228.7 175.77 231.5 176.3 234C176.83 236.5 177.13 239.5 177.5 242C177.87 244.5 178.12 246.5 178.5 249C178.88 251.5 179.2 254.27 179.8 257C180.4 259.73 181.15 263.43 182.1 265.4C183.05 267.37 184.37 267.95 185.5 268.8C186.63 269.65 187.78 270.08 188.9 270.5C190.02 270.92 191.37 270.73 192.2 271.3C193.03 271.87 193.5 271.57 193.9 273.9C194.3 276.23 194.48 283.4 194.6 285.3C205.75 285.3 250.35 285.3 261.5 285.3" stroke="#8c8cff" stroke-width="1.5" fill="none" stroke-linejoin="round"/>
<path d="M41.2 285.1C42.17 285.1 45.45 285.13 47 285.1C48.55 285.07 49.42 285.03 50.5 284.9C51.58 284.77 52.58 284.62 53.5 284.3C54.42 283.98 55.17 283.62 56 283C56.83 282.38 57.53 281.67 58.5 280.6C59.47 279.53 60.5 278.53 61.8 276.6C63.1 274.67 64.78 271.55 66.3 269C67.82 266.45 69.37 263.6 70.9 261.3C72.43 259 73.97 257.23 75.5 255.2C77.03 253.17 78.58 251 80.1 249.1C81.62 247.2 83.33 245.32 84.6 243.8C85.87 242.28 86.63 241.2 87.7 240C88.77 238.8 89.78 237.73 91 236.6C92.22 235.47 93.28 234.4 95 233.2C96.72 232 99.18 230.57 101.3 229.4C103.42 228.23 105.58 227.18 107.7 226.2C109.82 225.22 112.23 224.55 114 223.5C115.77 222.45 116.72 221.38 118.3 219.9C119.88 218.42 121.75 216.02 123.5 214.6C125.25 213.18 126.85 212.2 128.8 211.4C130.75 210.6 133.08 210.23 135.2 209.8C137.32 209.37 139.75 208.77 141.5 208.8C143.25 208.83 144.47 209.38 145.7 210C146.93 210.62 147.83 211.38 148.9 212.5C149.97 213.62 151.08 215.47 152.1 216.7C153.12 217.93 153.93 218.88 155 219.9C156.07 220.92 157.22 222.08 158.5 222.8C159.78 223.52 160.95 224.03 162.7 224.2C164.45 224.37 167.32 223.87 169 223.8C170.68 223.73 171.92 223.27 172.8 223.8C173.68 224.33 173.72 225.3 174.3 227C174.88 228.7 175.77 231.5 176.3 234C176.83 236.5 177.13 239.5 177.5 242C177.87 244.5 178.12 246.5 178.5 249C178.88 251.5 179.2 254.27 179.8 257C180.4 259.73 181.15 263.43 182.1 265.4C183.05 267.37 184.37 267.95 185.5 268.8C186.63 269.65 187.78 270.08 188.9 270.5C190.02 270.92 191.37 270.73 192.2 271.3C193.03 271.87 193.5 271.57 193.9 273.9C194.3 276.23 194.48 283.4 194.6 285.3C205.75 285.3 250.35 285.3 261.5 285.3" stroke="#1c1c98" stroke-width="1.7" fill="none" stroke-dasharray="1.6 1.4"/>
</g>
<rect x="41.2" y="159.8" width="220.3" height="125.7" fill="none" stroke="#9a9a9a" stroke-width="1.5"/>
<text class="tk" x="36.9" y="162.3" text-anchor="end">1e+09</text>
<text class="tk" x="36.9" y="187.44" text-anchor="end">1e+08</text>
<text class="tk" x="36.9" y="212.58" text-anchor="end">1e+07</text>
<text class="tk" x="36.9" y="237.72" text-anchor="end">1e+06</text>
<text class="tk" x="36.9" y="262.86" text-anchor="end">100000</text>
<text class="tk" x="36.9" y="288" text-anchor="end">10000</text>
<text class="tk" x="268.3" y="161.7">1.6</text>
<text class="tk" x="268.3" y="177.41">1.4</text>
<text class="tk" x="268.3" y="193.13">1.2</text>
<text class="tk" x="268.3" y="208.84">1</text>
<text class="tk" x="268.3" y="224.55">0.8</text>
<text class="tk" x="268.3" y="240.26">0.6</text>
<text class="tk" x="268.3" y="255.97">0.4</text>
<text class="tk" x="268.3" y="271.69">0.2</text>
<text class="tk" x="268.3" y="287.4">0</text>
<text class="tk" x="41.2" y="295" text-anchor="middle">3e+06</text>
<text class="tk" x="81.99" y="295" text-anchor="middle">1e+07</text>
<text class="tk" x="160" y="295" text-anchor="middle">1e+08</text>
<text class="tk" x="238.02" y="295" text-anchor="middle">1e+09</text>
<text class="tk" x="261.5" y="295" text-anchor="middle">2e+09</text>
<text x="142.2" y="306" font-size="7.2"><tspan class="serif" font-style="italic" font-size="9">r</tspan> [cm]</text>
<text transform="translate(10.2 222.65) rotate(-90) scale(1 1.25)" font-size="7" text-anchor="middle"><tspan font-size="8.6">ρ</tspan> [g/cm<tspan font-size="5" dy="-2.6">3</tspan><tspan dy="2.6">]</tspan></text>
<text transform="translate(293.1 244.3) rotate(-90)" font-size="6.9"><tspan class="serif" font-style="italic" font-size="10">T</tspan><tspan dx="0.6"> [10</tspan><tspan font-size="4.8" dy="-2.6">10</tspan><tspan dy="2.6"> K], </tspan><tspan class="serif" font-style="italic" font-size="9.6">X</tspan><tspan font-size="4.8" dy="1.8">i</tspan></text>
<path d="M345.6 260.36h2.2M566.5 260.36h-2.2M345.6 235.22h2.2M566.5 235.22h-2.2M345.6 210.08h2.2M566.5 210.08h-2.2M345.6 184.94h2.2M566.5 184.94h-2.2M386.5 285.5v-2.2M386.5 159.8v2.2M464.73 285.5v-2.2M464.73 159.8v2.2M542.95 285.5v-2.2M542.95 159.8v2.2M566.5 269.79h-2.2M566.5 254.07h-2.2M566.5 238.36h-2.2M566.5 222.65h-2.2M566.5 206.94h-2.2M566.5 191.23h-2.2M566.5 175.51h-2.2" stroke="#888" stroke-width="1" fill="none"/>
<clipPath id="c3"><rect x="345.1" y="159.3" width="221.9" height="126.9"/></clipPath><g clip-path="url(#c3)">
<path d="M345.5 224C345.95 224.6 347.03 226.17 348.2 227.6C349.37 229.03 350.73 230.85 352.5 232.6C354.27 234.35 356.7 236.58 358.8 238.1C360.9 239.62 363.35 240.67 365.1 241.7C366.85 242.73 367.18 243.05 369.3 244.3C371.42 245.55 374.98 247.68 377.8 249.2C380.62 250.72 383.38 252.17 386.2 253.4C389.02 254.63 392.4 255.83 394.7 256.6C397 257.37 397.85 257.33 400 258C402.15 258.67 405.07 259.73 407.6 260.6C410.13 261.47 412.65 262.43 415.2 263.2C417.75 263.97 420.35 264.55 422.9 265.2C425.45 265.85 427.97 266.47 430.5 267.1C433.03 267.73 435.57 268.37 438.1 269C440.63 269.63 443.42 270.35 445.7 270.9C447.98 271.45 450.02 271.98 451.8 272.3C453.58 272.62 455.25 272.85 456.4 272.8C457.55 272.75 457.93 272.73 458.7 272C459.47 271.27 460.12 269.77 461 268.4C461.88 267.03 462.98 265.13 464 263.8C465.02 262.47 466.03 261.45 467.1 260.4C468.17 259.35 469.13 258.37 470.4 257.5C471.67 256.63 473.43 255.68 474.7 255.2C475.97 254.72 476.37 254.57 478 254.6C479.63 254.63 482.33 255.08 484.5 255.4C486.67 255.72 488.83 256.18 491 256.5C493.17 256.82 495.18 257.07 497.5 257.3C499.82 257.53 502.87 257.72 504.9 257.9C506.93 258.08 508.35 258.53 509.7 258.4C511.05 258.27 512.05 257.87 513 257.1C513.95 256.33 514.57 255.05 515.4 253.8C516.23 252.55 517 250.97 518 249.6C519 248.23 520.2 246.63 521.4 245.6C522.6 244.57 524.22 243.6 525.2 243.4C526.18 243.2 526.67 244.08 527.3 244.4C527.93 244.72 528.45 245.37 529 245.3C529.55 245.23 530.12 244.5 530.6 244C531.08 243.5 531.47 242.87 531.9 242.3C532.33 241.73 532.7 240.98 533.2 240.6C533.7 240.22 534.42 240 534.9 240C535.38 240 535.82 240.15 536.1 240.6C536.38 241.05 536.52 242.35 536.6 242.7C536.72 245.18 537.18 255.12 537.3 257.6C537.73 257.93 538.9 258.97 539.9 259.6C540.9 260.23 541.83 260.32 543.3 261.4C544.77 262.48 546.67 264.45 548.7 266.1C550.73 267.75 553.25 269.45 555.5 271.3C557.75 273.15 560.45 275.58 562.2 277.2C563.95 278.82 565.37 280.37 566 281" stroke="#ff4a4a" stroke-opacity="0.5" stroke-width="2.5" fill="none" stroke-linejoin="round" stroke-linecap="round"/>
<path d="M345.5 224C345.95 224.6 347.03 226.17 348.2 227.6C349.37 229.03 350.73 230.85 352.5 232.6C354.27 234.35 356.7 236.58 358.8 238.1C360.9 239.62 363.35 240.67 365.1 241.7C366.85 242.73 367.18 243.05 369.3 244.3C371.42 245.55 374.98 247.68 377.8 249.2C380.62 250.72 383.38 252.17 386.2 253.4C389.02 254.63 392.4 255.83 394.7 256.6C397 257.37 397.85 257.33 400 258C402.15 258.67 405.07 259.73 407.6 260.6C410.13 261.47 412.65 262.43 415.2 263.2C417.75 263.97 420.35 264.55 422.9 265.2C425.45 265.85 427.97 266.47 430.5 267.1C433.03 267.73 435.57 268.37 438.1 269C440.63 269.63 443.42 270.35 445.7 270.9C447.98 271.45 450.02 271.98 451.8 272.3C453.58 272.62 455.25 272.85 456.4 272.8C457.55 272.75 457.93 272.73 458.7 272C459.47 271.27 460.12 269.77 461 268.4C461.88 267.03 462.98 265.13 464 263.8C465.02 262.47 466.03 261.45 467.1 260.4C468.17 259.35 469.13 258.37 470.4 257.5C471.67 256.63 473.43 255.68 474.7 255.2C475.97 254.72 476.37 254.57 478 254.6C479.63 254.63 482.33 255.08 484.5 255.4C486.67 255.72 488.83 256.18 491 256.5C493.17 256.82 495.18 257.07 497.5 257.3C499.82 257.53 502.87 257.72 504.9 257.9C506.93 258.08 508.35 258.53 509.7 258.4C511.05 258.27 512.05 257.87 513 257.1C513.95 256.33 514.57 255.05 515.4 253.8C516.23 252.55 517 250.97 518 249.6C519 248.23 520.2 246.63 521.4 245.6C522.6 244.57 524.22 243.6 525.2 243.4C526.18 243.2 526.67 244.08 527.3 244.4C527.93 244.72 528.45 245.37 529 245.3C529.55 245.23 530.12 244.5 530.6 244C531.08 243.5 531.47 242.87 531.9 242.3C532.33 241.73 532.7 240.98 533.2 240.6C533.7 240.22 534.42 240 534.9 240C535.38 240 535.82 240.15 536.1 240.6C536.38 241.05 536.52 242.35 536.6 242.7C536.72 245.18 537.18 255.12 537.3 257.6C537.73 257.93 538.9 258.97 539.9 259.6C540.9 260.23 541.83 260.32 543.3 261.4C544.77 262.48 546.67 264.45 548.7 266.1C550.73 267.75 553.25 269.45 555.5 271.3C557.75 273.15 560.45 275.58 562.2 277.2C563.95 278.82 565.37 280.37 566 281" stroke="#b81616" stroke-width="1.5" fill="none" stroke-linejoin="round" stroke-linecap="round"/>
<path d="M345.5 212.8C345.95 213.67 347.03 216.07 348.2 218C349.37 219.93 351.08 222.45 352.5 224.4C353.92 226.35 355.3 228 356.7 229.7C358.1 231.4 358.8 232.73 360.9 234.6C363 236.47 366.48 239 369.3 240.9C372.12 242.8 374.98 244.45 377.8 246C380.62 247.55 383.38 248.97 386.2 250.2C389.02 251.43 392.4 252.63 394.7 253.4C397 254.17 397.85 254.23 400 254.8C402.15 255.37 405.07 256.17 407.6 256.8C410.13 257.43 412.65 258.1 415.2 258.6C417.75 259.1 420.35 259.45 422.9 259.8C425.45 260.15 427.97 260.45 430.5 260.7C433.03 260.95 435.57 261.15 438.1 261.3C440.63 261.45 443.15 261.47 445.7 261.6C448.25 261.73 450.85 261.97 453.4 262.1C455.95 262.23 458.17 262.28 461 262.4C463.83 262.52 467.1 262.52 470.4 262.8C473.7 263.08 477.33 263.7 480.8 264.1C484.27 264.5 487.75 264.92 491.2 265.2C494.65 265.48 497.03 265.65 501.5 265.8C505.97 265.95 513.78 266.07 518 266.1C522.22 266.13 524.02 266.02 526.8 266C529.58 265.98 533.17 265.83 534.7 266C536.23 266.17 535.63 265.8 536 267C536.37 268.2 536.62 271.7 536.9 273.2C537.18 274.7 537.57 275.53 537.7 276C539.08 276.25 543.88 277.12 546 277.5C548.12 277.88 548.25 277.92 550.4 278.3C552.55 278.68 556.3 279.27 558.9 279.8C561.5 280.33 564.82 281.22 566 281.5" stroke="#26cf2e" stroke-width="1.9" fill="none" stroke-linejoin="round" stroke-linecap="round"/>
<path d="M345.6 251C345.85 251.77 346.55 253.63 347.1 255.6C347.65 257.57 348.3 260.53 348.9 262.8C349.5 265.07 349.95 267.07 350.7 269.2C351.45 271.33 352.5 273.93 353.4 275.6C354.3 277.27 355.07 278.15 356.1 279.2C357.13 280.25 358.12 281.23 359.6 281.9C361.08 282.57 363.27 282.9 365 283.2C366.73 283.5 367.5 283.57 370 283.7C372.5 283.83 374.33 283.92 380 284C385.67 284.08 394 284.2 404 284.2C414 284.2 427.2 284.08 440 284C452.8 283.92 472.27 283.77 480.8 283.7C489.33 283.63 487.75 283.68 491.2 283.6C494.65 283.52 499.08 283.47 501.5 283.2C503.92 282.93 504.48 282.28 505.7 282C506.92 281.72 507.93 281.47 508.8 281.5C509.67 281.53 510.3 281.68 510.9 282.2C511.5 282.72 512.15 284.2 512.4 284.6C521.42 284.72 557.48 285.18 566.5 285.3" stroke="#ffd0a0" stroke-width="1.5" fill="none" stroke-linejoin="round"/>
<path d="M345.6 251C345.85 251.77 346.55 253.63 347.1 255.6C347.65 257.57 348.3 260.53 348.9 262.8C349.5 265.07 349.95 267.07 350.7 269.2C351.45 271.33 352.5 273.93 353.4 275.6C354.3 277.27 355.07 278.15 356.1 279.2C357.13 280.25 358.12 281.23 359.6 281.9C361.08 282.57 363.27 282.9 365 283.2C366.73 283.5 367.5 283.57 370 283.7C372.5 283.83 374.33 283.92 380 284C385.67 284.08 394 284.2 404 284.2C414 284.2 427.2 284.08 440 284C452.8 283.92 472.27 283.77 480.8 283.7C489.33 283.63 487.75 283.68 491.2 283.6C494.65 283.52 499.08 283.47 501.5 283.2C503.92 282.93 504.48 282.28 505.7 282C506.92 281.72 507.93 281.47 508.8 281.5C509.67 281.53 510.3 281.68 510.9 282.2C511.5 282.72 512.15 284.2 512.4 284.6C521.42 284.72 557.48 285.18 566.5 285.3" stroke="#d07a24" stroke-width="1.7" fill="none" stroke-dasharray="1.6 1.4"/>
<path d="M345.6 252.6C345.85 253.32 346.55 255 347.1 256.9C347.65 258.8 348.3 261.78 348.9 264C349.5 266.22 349.95 268.13 350.7 270.2C351.45 272.27 352.5 274.78 353.4 276.4C354.3 278.02 355.07 278.87 356.1 279.9C357.13 280.93 358.12 281.93 359.6 282.6C361.08 283.27 363.27 283.6 365 283.9C366.73 284.2 367.5 284.25 370 284.4C372.5 284.55 374.33 284.7 380 284.8C385.67 284.9 372.92 284.93 404 285C435.08 285.07 539.42 285.17 566.5 285.2" stroke="#bdbdbd" stroke-width="1.5" fill="none" stroke-linejoin="round"/>
<path d="M345.6 252.6C345.85 253.32 346.55 255 347.1 256.9C347.65 258.8 348.3 261.78 348.9 264C349.5 266.22 349.95 268.13 350.7 270.2C351.45 272.27 352.5 274.78 353.4 276.4C354.3 278.02 355.07 278.87 356.1 279.9C357.13 280.93 358.12 281.93 359.6 282.6C361.08 283.27 363.27 283.6 365 283.9C366.73 284.2 367.5 284.25 370 284.4C372.5 284.55 374.33 284.7 380 284.8C385.67 284.9 372.92 284.93 404 285C435.08 285.07 539.42 285.17 566.5 285.2" stroke="#0a0a0a" stroke-width="1.7" fill="none" stroke-dasharray="1.6 1.4"/>
<path d="M345.6 285.3C356.33 285.3 398.4 285.35 410 285.3C421.6 285.25 413.05 285.13 415.2 285C417.35 284.87 420.35 284.72 422.9 284.5C425.45 284.28 427.97 283.95 430.5 283.7C433.03 283.45 435.57 283.17 438.1 283C440.63 282.83 443.15 282.7 445.7 282.7C448.25 282.7 451.23 282.97 453.4 283C455.57 283.03 457.43 283.58 458.7 282.9C459.97 282.22 460.12 280.72 461 278.9C461.88 277.08 462.98 274.42 464 272C465.02 269.58 466.22 266.65 467.1 264.4C467.98 262.15 468.57 260.48 469.3 258.5C470.03 256.52 470.6 254.85 471.5 252.5C472.4 250.15 473.75 246.43 474.7 244.4C475.65 242.37 476.25 241.25 477.2 240.3C478.15 239.35 478.65 238.88 480.4 238.7C482.15 238.52 485.4 238.93 487.7 239.2C490 239.47 492.03 239.85 494.2 240.3C496.37 240.75 499.2 241.27 500.7 241.9C502.2 242.53 502.23 243.47 503.2 244.1C504.17 244.73 505.55 245.57 506.5 245.7C507.45 245.83 508.22 245.57 508.9 244.9C509.58 244.23 510.05 243.6 510.6 241.7C511.15 239.8 511.8 235.13 512.2 233.5C512.6 231.87 512.87 232.17 513 231.9C513.13 233.67 513.55 238.5 513.8 242.5C514.05 246.5 514.27 252.07 514.5 255.9C514.73 259.73 514.97 262.88 515.2 265.5C515.43 268.12 515.67 270.7 515.9 271.6C516.13 272.5 516.37 271.92 516.6 270.9C516.83 269.88 517.07 268 517.3 265.5C517.53 263 517.78 259.32 518 255.9C518.22 252.48 518.35 250.82 518.6 245C518.85 239.18 519.08 225.62 519.5 221C519.92 216.38 520.43 218.1 521.1 217.3C521.77 216.5 522.68 216.73 523.5 216.2C524.32 215.67 525.45 214.73 526 214.1C526.55 213.47 526.67 212.68 526.8 212.4C526.93 213.08 527.33 212.83 527.6 216.5C527.87 220.17 528.13 228.48 528.4 234.4C528.67 240.32 528.93 245.23 529.2 252C529.47 258.77 529.8 269.45 530 275C530.2 280.55 530.33 283.58 530.4 285.3C536.42 285.3 560.48 285.3 566.5 285.3" stroke="#dca4ff" stroke-width="1.5" fill="none" stroke-linejoin="round"/>
<path d="M345.6 285.3C356.33 285.3 398.4 285.35 410 285.3C421.6 285.25 413.05 285.13 415.2 285C417.35 284.87 420.35 284.72 422.9 284.5C425.45 284.28 427.97 283.95 430.5 283.7C433.03 283.45 435.57 283.17 438.1 283C440.63 282.83 443.15 282.7 445.7 282.7C448.25 282.7 451.23 282.97 453.4 283C455.57 283.03 457.43 283.58 458.7 282.9C459.97 282.22 460.12 280.72 461 278.9C461.88 277.08 462.98 274.42 464 272C465.02 269.58 466.22 266.65 467.1 264.4C467.98 262.15 468.57 260.48 469.3 258.5C470.03 256.52 470.6 254.85 471.5 252.5C472.4 250.15 473.75 246.43 474.7 244.4C475.65 242.37 476.25 241.25 477.2 240.3C478.15 239.35 478.65 238.88 480.4 238.7C482.15 238.52 485.4 238.93 487.7 239.2C490 239.47 492.03 239.85 494.2 240.3C496.37 240.75 499.2 241.27 500.7 241.9C502.2 242.53 502.23 243.47 503.2 244.1C504.17 244.73 505.55 245.57 506.5 245.7C507.45 245.83 508.22 245.57 508.9 244.9C509.58 244.23 510.05 243.6 510.6 241.7C511.15 239.8 511.8 235.13 512.2 233.5C512.6 231.87 512.87 232.17 513 231.9C513.13 233.67 513.55 238.5 513.8 242.5C514.05 246.5 514.27 252.07 514.5 255.9C514.73 259.73 514.97 262.88 515.2 265.5C515.43 268.12 515.67 270.7 515.9 271.6C516.13 272.5 516.37 271.92 516.6 270.9C516.83 269.88 517.07 268 517.3 265.5C517.53 263 517.78 259.32 518 255.9C518.22 252.48 518.35 250.82 518.6 245C518.85 239.18 519.08 225.62 519.5 221C519.92 216.38 520.43 218.1 521.1 217.3C521.77 216.5 522.68 216.73 523.5 216.2C524.32 215.67 525.45 214.73 526 214.1C526.55 213.47 526.67 212.68 526.8 212.4C526.93 213.08 527.33 212.83 527.6 216.5C527.87 220.17 528.13 228.48 528.4 234.4C528.67 240.32 528.93 245.23 529.2 252C529.47 258.77 529.8 269.45 530 275C530.2 280.55 530.33 283.58 530.4 285.3C536.42 285.3 560.48 285.3 566.5 285.3" stroke="#7a26c4" stroke-width="1.7" fill="none" stroke-dasharray="1.6 1.4"/>
<path d="M345.6 285.4C376.15 285.4 498.35 285.4 528.9 285.4C528.93 278.42 529.07 250.48 529.1 243.5C529.65 243.5 531.85 243.5 532.4 243.5C532.48 248.88 532.82 270.42 532.9 275.8C533.42 277.18 534.82 282.5 536 284.1C537.18 285.7 534.92 285.18 540 285.4C545.08 285.62 562.08 285.4 566.5 285.4" stroke="#a0e4a0" stroke-width="1.5" fill="none" stroke-linejoin="round"/>
<path d="M345.6 285.4C376.15 285.4 498.35 285.4 528.9 285.4C528.93 278.42 529.07 250.48 529.1 243.5C529.65 243.5 531.85 243.5 532.4 243.5C532.48 248.88 532.82 270.42 532.9 275.8C533.42 277.18 534.82 282.5 536 284.1C537.18 285.7 534.92 285.18 540 285.4C545.08 285.62 562.08 285.4 566.5 285.4" stroke="#145a14" stroke-width="1.7" fill="none" stroke-dasharray="1.6 1.4"/>
<path d="M364 285.3C391.83 285.3 503.17 285.3 531 285.3C531.07 279.42 531.15 259.3 531.4 250C531.65 240.7 532.18 234 532.5 229.5C532.82 225 532.98 224.52 533.3 223C533.62 221.48 534 220.13 534.4 220.4C534.8 220.67 535.32 223.02 535.7 224.6C536.08 226.18 536.32 228.9 536.7 229.9C537.08 230.9 536.7 230.52 538 230.6C539.3 230.68 541.8 230.43 544.5 230.4C547.2 230.37 551.1 230.4 554.2 230.4C557.3 230.4 561.47 231.02 563.1 230.4C564.73 229.78 563.63 227.73 564 226.7C564.37 225.67 564.88 224.9 565.3 224.2C565.72 223.5 566.3 222.78 566.5 222.5" stroke="#ff9a9a" stroke-width="1.5" fill="none" stroke-linejoin="round"/>
<path d="M364 285.3C391.83 285.3 503.17 285.3 531 285.3C531.07 279.42 531.15 259.3 531.4 250C531.65 240.7 532.18 234 532.5 229.5C532.82 225 532.98 224.52 533.3 223C533.62 221.48 534 220.13 534.4 220.4C534.8 220.67 535.32 223.02 535.7 224.6C536.08 226.18 536.32 228.9 536.7 229.9C537.08 230.9 536.7 230.52 538 230.6C539.3 230.68 541.8 230.43 544.5 230.4C547.2 230.37 551.1 230.4 554.2 230.4C557.3 230.4 561.47 231.02 563.1 230.4C564.73 229.78 563.63 227.73 564 226.7C564.37 225.67 564.88 224.9 565.3 224.2C565.72 223.5 566.3 222.78 566.5 222.5" stroke="#b41212" stroke-width="1.7" fill="none" stroke-dasharray="1.6 1.4"/>
<path d="M345.6 272.5C345.85 271.02 346.55 266.87 347.1 263.6C347.65 260.33 348.3 256.18 348.9 252.9C349.5 249.62 350.1 246.8 350.7 243.9C351.3 241 351.87 238.07 352.5 235.5C353.13 232.93 353.8 230.7 354.5 228.5C355.2 226.3 355.63 224.52 356.7 222.3C357.77 220.08 359.13 217.02 360.9 215.2C362.67 213.38 364.83 212.4 367.3 211.4C369.77 210.4 372.53 209.75 375.7 209.2C378.87 208.65 382.25 208.3 386.3 208.1C390.35 207.9 396.37 207.88 400 208C403.63 208.12 405.4 208.53 408.1 208.8C410.8 209.07 413.48 209.33 416.2 209.6C418.92 209.87 421.68 210.22 424.4 210.4C427.12 210.58 429.8 210.7 432.5 210.7C435.2 210.7 437.9 210.58 440.6 210.4C443.3 210.22 446.13 209.8 448.7 209.6C451.27 209.4 454.23 209.12 456 209.2C457.77 209.28 458.32 209.42 459.3 210.1C460.28 210.78 461.03 211.65 461.9 213.3C462.77 214.95 463.58 217.42 464.5 220C465.42 222.58 466.4 225.88 467.4 228.8C468.4 231.72 469.6 234.88 470.5 237.5C471.4 240.12 472.05 242.38 472.8 244.5C473.55 246.62 474.13 248.68 475 250.2C475.87 251.72 476.68 252.82 478 253.6C479.32 254.38 481 254.68 482.9 254.9C484.8 255.12 486.97 255.03 489.4 254.9C491.83 254.77 495.73 254.42 497.5 254.1C499.27 253.78 499.05 253.35 500 253C500.95 252.65 502.12 252.4 503.2 252C504.28 251.6 505.55 250.9 506.5 250.6C507.45 250.3 508.22 250.03 508.9 250.2C509.58 250.37 510.05 250.72 510.6 251.6C511.15 252.48 511.77 254.1 512.2 255.5C512.63 256.9 512.7 258.33 513.2 260C513.7 261.67 514.52 263.8 515.2 265.5C515.88 267.2 516.5 268.85 517.3 270.2C518.1 271.55 518.98 272.57 520 273.6C521.02 274.63 522.48 275.48 523.4 276.4C524.32 277.32 524.93 278.2 525.5 279.1C526.07 280 526.4 280.78 526.8 281.8C527.2 282.82 527.72 284.63 527.9 285.2C534.33 285.22 560.07 285.28 566.5 285.3" stroke="#8c8cff" stroke-width="1.5" fill="none" stroke-linejoin="round"/>
<path d="M345.6 272.5C345.85 271.02 346.55 266.87 347.1 263.6C347.65 260.33 348.3 256.18 348.9 252.9C349.5 249.62 350.1 246.8 350.7 243.9C351.3 241 351.87 238.07 352.5 235.5C353.13 232.93 353.8 230.7 354.5 228.5C355.2 226.3 355.63 224.52 356.7 222.3C357.77 220.08 359.13 217.02 360.9 215.2C362.67 213.38 364.83 212.4 367.3 211.4C369.77 210.4 372.53 209.75 375.7 209.2C378.87 208.65 382.25 208.3 386.3 208.1C390.35 207.9 396.37 207.88 400 208C403.63 208.12 405.4 208.53 408.1 208.8C410.8 209.07 413.48 209.33 416.2 209.6C418.92 209.87 421.68 210.22 424.4 210.4C427.12 210.58 429.8 210.7 432.5 210.7C435.2 210.7 437.9 210.58 440.6 210.4C443.3 210.22 446.13 209.8 448.7 209.6C451.27 209.4 454.23 209.12 456 209.2C457.77 209.28 458.32 209.42 459.3 210.1C460.28 210.78 461.03 211.65 461.9 213.3C462.77 214.95 463.58 217.42 464.5 220C465.42 222.58 466.4 225.88 467.4 228.8C468.4 231.72 469.6 234.88 470.5 237.5C471.4 240.12 472.05 242.38 472.8 244.5C473.55 246.62 474.13 248.68 475 250.2C475.87 251.72 476.68 252.82 478 253.6C479.32 254.38 481 254.68 482.9 254.9C484.8 255.12 486.97 255.03 489.4 254.9C491.83 254.77 495.73 254.42 497.5 254.1C499.27 253.78 499.05 253.35 500 253C500.95 252.65 502.12 252.4 503.2 252C504.28 251.6 505.55 250.9 506.5 250.6C507.45 250.3 508.22 250.03 508.9 250.2C509.58 250.37 510.05 250.72 510.6 251.6C511.15 252.48 511.77 254.1 512.2 255.5C512.63 256.9 512.7 258.33 513.2 260C513.7 261.67 514.52 263.8 515.2 265.5C515.88 267.2 516.5 268.85 517.3 270.2C518.1 271.55 518.98 272.57 520 273.6C521.02 274.63 522.48 275.48 523.4 276.4C524.32 277.32 524.93 278.2 525.5 279.1C526.07 280 526.4 280.78 526.8 281.8C527.2 282.82 527.72 284.63 527.9 285.2C534.33 285.22 560.07 285.28 566.5 285.3" stroke="#1c1c98" stroke-width="1.7" fill="none" stroke-dasharray="1.6 1.4"/>
</g>
<rect x="345.6" y="159.8" width="220.9" height="125.7" fill="none" stroke="#9a9a9a" stroke-width="1.5"/>
<text class="tk" x="341.3" y="162.3" text-anchor="end">1e+09</text>
<text class="tk" x="341.3" y="187.44" text-anchor="end">1e+08</text>
<text class="tk" x="341.3" y="212.58" text-anchor="end">1e+07</text>
<text class="tk" x="341.3" y="237.72" text-anchor="end">1e+06</text>
<text class="tk" x="341.3" y="262.86" text-anchor="end">100000</text>
<text class="tk" x="341.3" y="288" text-anchor="end">10000</text>
<text class="tk" x="573.3" y="161.7">1.6</text>
<text class="tk" x="573.3" y="177.41">1.4</text>
<text class="tk" x="573.3" y="193.13">1.2</text>
<text class="tk" x="573.3" y="208.84">1</text>
<text class="tk" x="573.3" y="224.55">0.8</text>
<text class="tk" x="573.3" y="240.26">0.6</text>
<text class="tk" x="573.3" y="255.97">0.4</text>
<text class="tk" x="573.3" y="271.69">0.2</text>
<text class="tk" x="573.3" y="287.4">0</text>
<text class="tk" x="345.6" y="295" text-anchor="middle">3e+06</text>
<text class="tk" x="386.5" y="295" text-anchor="middle">1e+07</text>
<text class="tk" x="464.73" y="295" text-anchor="middle">1e+08</text>
<text class="tk" x="542.95" y="295" text-anchor="middle">1e+09</text>
<text class="tk" x="566.5" y="295" text-anchor="middle">2e+09</text>
<text x="446.6" y="306" font-size="7.2"><tspan class="serif" font-style="italic" font-size="9">r</tspan> [cm]</text>
<text transform="translate(314.6 222.65) rotate(-90) scale(1 1.25)" font-size="7" text-anchor="middle"><tspan font-size="8.6">ρ</tspan> [g/cm<tspan font-size="5" dy="-2.6">3</tspan><tspan dy="2.6">]</tspan></text>
<text transform="translate(598.1 244.3) rotate(-90)" font-size="6.9"><tspan class="serif" font-style="italic" font-size="10">T</tspan><tspan dx="0.6"> [10</tspan><tspan font-size="4.8" dy="-2.6">10</tspan><tspan dy="2.6"> K], </tspan><tspan class="serif" font-style="italic" font-size="9.6">X</tspan><tspan font-size="4.8" dy="1.8">i</tspan></text>
<path d="M496.8 118.5L505.2 109.4" stroke="#333" stroke-width="0.8"/>
<path d="M207.2 284.8L213.8 267.4" stroke="#333" stroke-width="0.8"/>
<path d="M531.9 251.6L544.3 251.6" stroke="#333" stroke-width="0.8"/>
<text x="140" y="33.4" font-size="10">ρ</text>
<text x="118.5" y="55" class="serif" font-style="italic" font-size="9.5">T</text>
<text x="63.3" y="76.2" font-size="9">n</text>
<text x="62.8" y="107.6" font-size="9">p</text>
<text transform="translate(103.2 118.2) scale(1 1.12)" font-size="9.6"><tspan font-size="6.3" dy="-3.8">4</tspan><tspan dy="3.8" dx="0.4">He</tspan></text>
<text transform="translate(151.6 82.5) scale(1 1.12)" font-size="9.6"><tspan font-size="6.3" dy="-3.8">28</tspan><tspan dy="3.8" dx="0.4">Si</tspan></text>
<text transform="translate(236 71) scale(1 1.12)" font-size="9.6"><tspan font-size="6.3" dy="-3.8">16</tspan><tspan dy="3.8" dx="0.4">O</tspan></text>
<text x="195.5" y="31.6" font-size="9.4"><tspan class="serif" font-style="italic">t</tspan><tspan font-size="6.6" dy="2.8" dx="0.4">exp</tspan><tspan dy="-2.8" dx="0.3"> = 20 ms</tspan></text>
<text x="389.2" y="33" class="serif" font-style="italic" font-size="9.5">T</text>
<text x="389" y="64.6" font-size="10">ρ</text>
<text x="367.2" y="82.5" font-size="9">p</text>
<text x="367.2" y="99.2" font-size="9">n</text>
<text transform="translate(456 51.8) scale(1 1.12)" font-size="9.6"><tspan font-size="6.3" dy="-3.8">4</tspan><tspan dy="3.8" dx="0.4">He</tspan></text>
<text transform="translate(500.8 108.6) scale(1 1.12)" font-size="9.6"><tspan font-size="6.3" dy="-3.8">28</tspan><tspan dy="3.8" dx="0.4">Si</tspan></text>
<text transform="translate(541.2 71) scale(1 1.12)" font-size="9.6"><tspan font-size="6.3" dy="-3.8">16</tspan><tspan dy="3.8" dx="0.4">O</tspan></text>
<text x="499.3" y="32.1" font-size="9.4"><tspan class="serif" font-style="italic">t</tspan><tspan font-size="6.6" dy="2.8" dx="0.4">exp</tspan><tspan dy="-2.8" dx="0.3"> = 100 ms</tspan></text>
<text x="73.5" y="213.6" class="serif" font-style="italic" font-size="9.5">T</text>
<text x="191" y="211.8" font-size="10">ρ</text>
<text x="80.8" y="279.8" font-size="9">n</text>
<text x="96" y="263.8" font-size="9">p</text>
<text transform="translate(140.8 204.4) scale(1 1.12)" font-size="9.6"><tspan font-size="6.3" dy="-3.8">4</tspan><tspan dy="3.8" dx="0.4">He</tspan></text>
<text transform="translate(163.5 276.4) scale(1 1.12)" font-size="9.6"><tspan font-size="6.3" dy="-3.8">56</tspan><tspan dy="3.8" dx="0.4">Ni</tspan></text>
<text transform="translate(208 264.4) scale(1 1.12)" font-size="9.6"><tspan font-size="6.3" dy="-3.8">28</tspan><tspan dy="3.8" dx="0.4">Si</tspan></text>
<text transform="translate(236.5 228) scale(1 1.12)" font-size="9.6"><tspan font-size="6.3" dy="-3.8">16</tspan><tspan dy="3.8" dx="0.4">O</tspan></text>
<text x="195.3" y="186.9" font-size="9.4"><tspan class="serif" font-style="italic">t</tspan><tspan font-size="6.6" dy="2.8" dx="0.4">exp</tspan><tspan dy="-2.8" dx="0.3"> = 150 ms</tspan></text>
<text x="389.2" y="244.5" class="serif" font-style="italic" font-size="9.5">T</text>
<text x="389.3" y="266.5" font-size="10">ρ</text>
<text x="367.8" y="278.9" font-size="9">n</text>
<text x="478" y="278.3" font-size="9">p</text>
<text transform="translate(445.1 203.9) scale(1 1.12)" font-size="9.6"><tspan font-size="6.3" dy="-3.8">4</tspan><tspan dy="3.8" dx="0.4">He</tspan></text>
<text transform="translate(489.5 232.2) scale(1 1.12)" font-size="9.6"><tspan font-size="6.3" dy="-3.8">56</tspan><tspan dy="3.8" dx="0.4">Ni</tspan></text>
<text transform="translate(545.3 251.9) scale(1 1.12)" font-size="9.6"><tspan font-size="6.3" dy="-3.8">28</tspan><tspan dy="3.8" dx="0.4">Si</tspan></text>
<text transform="translate(541.5 226.7) scale(1 1.12)" font-size="9.6"><tspan font-size="6.3" dy="-3.8">16</tspan><tspan dy="3.8" dx="0.4">O</tspan></text>
<text x="499.3" y="187.6" font-size="9.4"><tspan class="serif" font-style="italic">t</tspan><tspan font-size="6.6" dy="2.8" dx="0.4">exp</tspan><tspan dy="-2.8" dx="0.3"> = 500 ms</tspan></text>
</svg>
</body></html>
